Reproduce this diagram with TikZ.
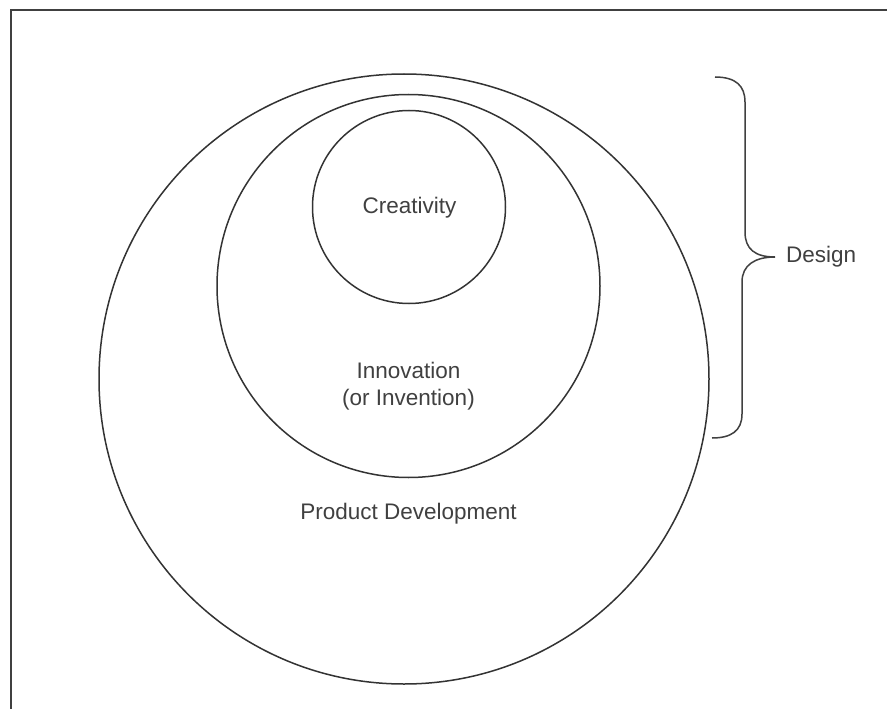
\documentclass[tikz,border=0pt]{standalone}
\usepackage{fontspec}
\setmainfont{Liberation Sans}
\begin{document}
\begin{tikzpicture}[x=1pt,y=-1pt,
  ring/.style={circle,draw=black!80,line width=1.5pt,inner sep=0pt},
  lbl/.style={font=\fontsize{22.5}{27}\selectfont,text=black!75,align=center,inner sep=0pt},
  frameline/.style={draw=black!75,line width=1.6pt},
  bracel/.style={draw=black!75,line width=1.5pt}]
\useasboundingbox (0,0) rectangle (887,709);
\fill[white] (0,0) rectangle (887,709);
% frame (top and left)
\coordinate (fbl) at (11,709);
\coordinate (ftl) at (11,10);
\coordinate (ftr) at (887,10);
\draw[frameline] (fbl) -- (ftl) -- (ftr);
% circles
\node[ring,minimum size=610pt] (outer) at (404,379) {};
\node[ring,minimum size=383pt] (middle) at (408.5,286) {};
\node[ring,minimum size=193pt] (inner) at (409,207) {};
% labels
\node[lbl] (creat) at (409.5,208) {Creativity};
\node[lbl] (innov) at (408.5,386) {Innovation\\(or Invention)};
\node[lbl] (prod) at (408.5,514) {Product Development};
% brace
\coordinate (btop) at (715,77);
\coordinate (btip) at (775,257);
\coordinate (bbot) at (712,438);
\draw[bracel] (btop) .. controls (736,77) and (745,86) .. (745,102)
  -- (745,232) .. controls (745,249) and (755,257) .. (btip)
  .. controls (755,257) and (742,265) .. (742,282)
  -- (742,414) .. controls (742,431) and (731,438) .. (bbot);
\node[lbl,anchor=west] (design) at ([xshift=11pt]btip) {Design};
\end{tikzpicture}
\end{document}
